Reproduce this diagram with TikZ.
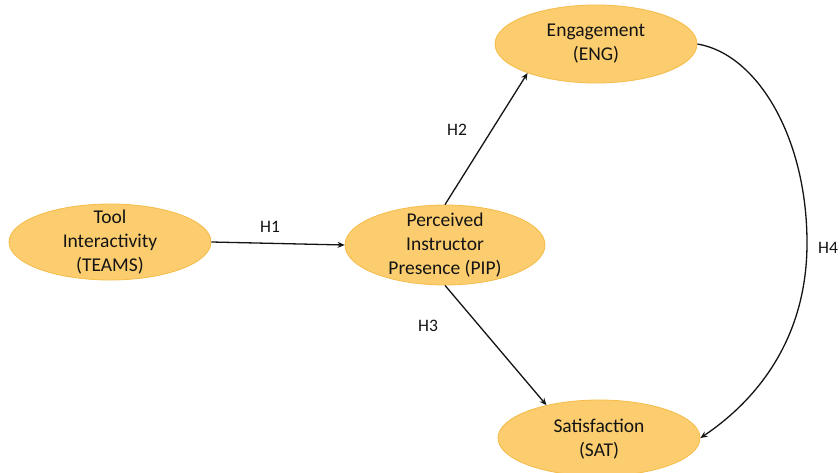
\documentclass[tikz,border=0pt]{standalone}
\usepackage{fontspec}
\setmainfont{Carlito}
\usetikzlibrary{shapes.geometric,arrows.meta}
\definecolor{ellfill}{RGB}{251,205,111}
\definecolor{ellline}{RGB}{245,188,72}
\definecolor{ink}{RGB}{20,20,20}
\begin{document}
\begin{tikzpicture}[x=1pt,y=1pt,
  ell/.style={ellipse, draw=ellline, line width=0.8pt, fill=ellfill, minimum width=202pt, minimum height=77pt, inner sep=0pt},
  txt/.style={align=center, text=ink, font=\fontsize{19.5}{24}\selectfont, inner sep=0pt},
  hlab/.style={text=ink, font=\fontsize{17.5}{21}\selectfont, inner sep=0pt},
  link/.style={draw=ink, line width=1.3pt, -{Stealth[length=7pt,width=6pt]}}]
\useasboundingbox (0,0) rectangle (840,472);
\fill[white] (0,0) rectangle (840,472);
% ellipses
\node[ell, minimum height=76pt] (teams) at (110,230) {};
\node[ell, minimum width=200pt, minimum height=80pt] (pip) at (445,227) {};
\node[ell, minimum height=78pt] (eng) at (596,428) {};
\node[ell, minimum height=76pt] (sat) at (599,34) {};
% texts
\node[txt] (teamsT) at (teams) {Tool\\Interactivity\\(TEAMS)};
\node[txt] (pipT) at (pip) {Perceived\\Instructor\\Presence (PIP)};
\node[txt] (engT) at (eng) {Engagement\\(ENG)};
\node[txt] (satT) at ([yshift=-1pt]sat) {Satisfaction\\(SAT)};
% connectors
\draw[link] (teams.east) -- (pip.west);
\draw[link] (pip.north) -- (eng.203);
\draw[link] (pip.south) -- (sat.148);
\coordinate (h4mid) at (807,229);
\draw[link] (eng.east) .. controls (757,418) and (807,335) .. (h4mid)
  .. controls (807,125) and (748,66) .. (sat.east);
% labels
\node[hlab] (h1) at (270,245) {H1};
\node[hlab] (h2) at (457,342) {H2};
\node[hlab] (h3) at (428,146) {H3};
\node[hlab] (h4) at (828,224) {H4};
\end{tikzpicture}
\end{document}
